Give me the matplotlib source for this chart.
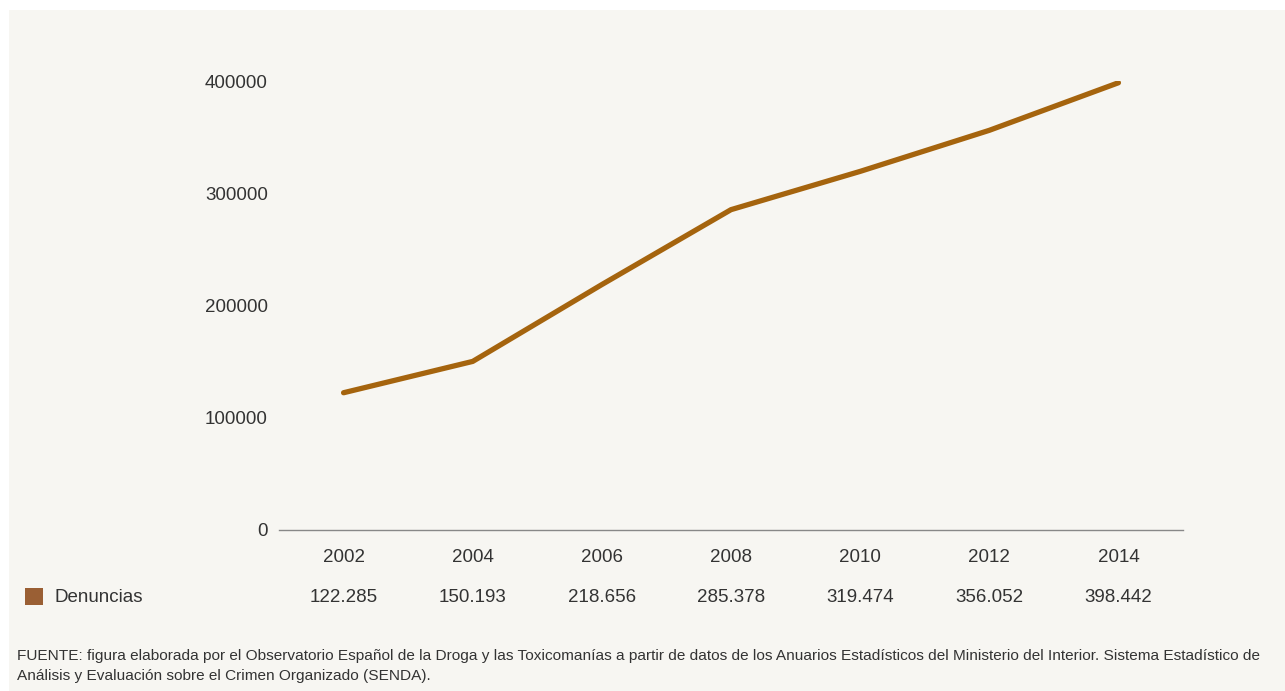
import matplotlib.pyplot as plt
from matplotlib.patches import Rectangle

plt.rcParams['font.family'] = ['Liberation Sans', 'DejaVu Sans']

years = ['2002', '2004', '2006', '2008', '2010', '2012', '2014']
denuncias = [122285, 150193, 218656, 285378, 319474, 356052, 398442]
y_ticks = [0, 100000, 200000, 300000, 400000]
series_name = 'Denuncias'
fuente = ('FUENTE: figura elaborada por el Observatorio Español de la Droga y las Toxicomanías a partir de datos '
          'de los Anuarios Estadísticos del Ministerio del Interior. Sistema Estadístico de\n'
          'Análisis y Evaluación sobre el Crimen Organizado (SENDA).')

W, H = 1285, 691
bg = '#f7f6f2'
txt = '#333333'

fig = plt.figure(figsize=(W / 100, H / 100), dpi=100)
fig.patch.set_facecolor('white')
fig.patches.append(Rectangle((9 / W, 0), 1 - 9 / W, 1 - 10 / H, transform=fig.transFigure,
                             facecolor=bg, edgecolor='none', zorder=-10))

ax = fig.add_axes([279 / W, 1 - 530 / H, (1183 - 279) / W, (530 - 81) / H])
ax.set_facecolor('none')
x = list(range(len(years)))
ax.plot(x, denuncias, color='#a5640e', lw=3.8, solid_capstyle='round', solid_joinstyle='round')
ax.set_xlim(-0.5, len(years) - 0.5)
ax.set_ylim(0, 400000)
ax.set_yticks(y_ticks)
ax.set_yticklabels([str(v) for v in y_ticks], fontsize=13.5, color=txt)
ax.tick_params(axis='y', length=0, pad=8)
ax.set_xticks(x)
ax.set_xticklabels(years, fontsize=13.5, color=txt)
ax.tick_params(axis='x', length=0, pad=14)
for s in ['top', 'right', 'left']:
    ax.spines[s].set_visible(False)
ax.spines['bottom'].set_color('#888888')
ax.spines['bottom'].set_linewidth(1.0)

# data table row
row_y = 1 - 597 / H
for i, v in enumerate(denuncias):
    lbl = '{:,}'.format(v).replace(',', '.')
    xf = ax.transData.transform((i, 0))[0] / W
    fig.text(xf, row_y, lbl, ha='center', va='center', fontsize=13.5, color=txt)
fig.patches.append(Rectangle((25 / W, 1 - 605 / H), 18 / W, 17 / H, transform=fig.transFigure,
                             facecolor='#9a5f34', edgecolor='none'))
fig.text(55 / W, row_y, series_name, ha='left', va='center', fontsize=13.5, color=txt)

fig.text(17 / W, 1 - 666 / H, fuente, ha='left', va='center', fontsize=11.05, color=txt,
         linespacing=1.5)

fig.savefig('out.png', dpi=100, facecolor=fig.get_facecolor())
